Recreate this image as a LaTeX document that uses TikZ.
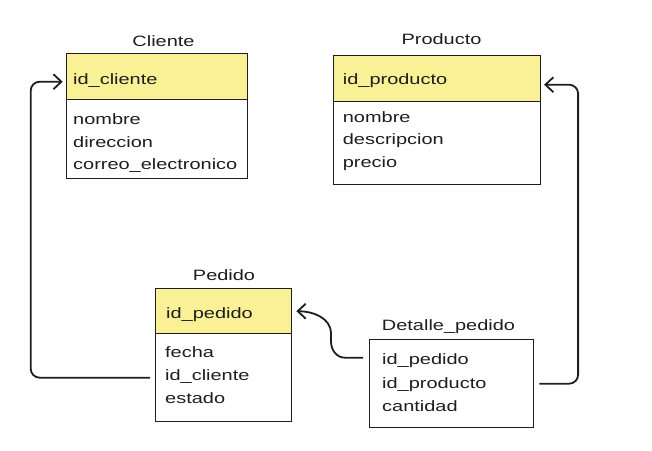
\documentclass[tikz,border=0pt]{standalone}
\usepackage{fontspec}
\setmainfont[FakeStretch=1.33]{Liberation Sans}
\usetikzlibrary{arrows.meta}
\definecolor{ink}{RGB}{30,30,30}
\definecolor{hdr}{RGB}{250,240,150}
\begin{document}
\begin{tikzpicture}[x=1pt,y=-1pt,
  font=\fontsize{15}{23}\selectfont,
  box/.style={draw=ink, line width=1.4pt, fill=white, anchor=north west, inner sep=0pt},
  hdrbox/.style={box, fill=hdr},
  txt/.style={anchor=base west, inner sep=0pt, text=ink},
  ttl/.style={anchor=base, inner sep=0pt, text=ink},
  conn/.style={draw=ink, line width=1.8pt, rounded corners=9pt, -{Straight Barb[length=8pt,width=15pt,line width=1.8pt]}}]
\useasboundingbox (0,0) rectangle (652,450);

% Cliente
\node[ttl] (cliT) at (163.5,46) {Cliente};
\node[hdrbox, minimum width=181pt, minimum height=46pt] (cliH) at (65.7,53) {};
\node[box, minimum width=181pt, minimum height=79pt] (cliB) at (65.7,99) {};
\node[txt] (cli1) at (73,84) {id\_cliente};
\node[txt] (cli2) at (73,124) {nombre};
\node[txt] (cli3) at (73,147) {direccion};
\node[txt] (cli4) at (73,169) {correo\_electronico};

% Producto
\node[ttl] (proT) at (441.5,44) {Producto};
\node[hdrbox, minimum width=207pt, minimum height=46pt] (proH) at (332.7,55) {};
\node[box, minimum width=207pt, minimum height=83pt] (proB) at (332.7,101) {};
\node[txt] (pro1) at (342.7,84) {id\_producto};
\node[txt] (pro2) at (342.7,122) {nombre};
\node[txt] (pro3) at (342.7,144) {descripcion};
\node[txt] (pro4) at (342.7,167) {precio};

% Pedido
\node[ttl] (pedT) at (224,280) {Pedido};
\node[hdrbox, minimum width=136pt, minimum height=45pt] (pedH) at (155,288) {};
\node[box, minimum width=136pt, minimum height=88pt] (pedB) at (155,333) {};
\node[txt] (ped1) at (166,318) {id\_pedido};
\node[txt] (ped2) at (165,357) {fecha};
\node[txt] (ped3) at (165,380) {id\_cliente};
\node[txt] (ped4) at (165,403) {estado};

% Detalle_pedido
\node[ttl] (detT) at (448.5,330) {Detalle\_pedido};
\node[box, minimum width=164pt, minimum height=88pt] (detB) at (369,339) {};
\node[txt] (det1) at (382,364) {id\_pedido};
\node[txt] (det2) at (382,388) {id\_producto};
\node[txt] (det3) at (382,411) {cantidad};

% connectors
\draw[conn] ([xshift=-5pt]pedB.west) -| ([xshift=-35pt,yshift=-5pt]cliH.west) -- ([xshift=-3pt,yshift=-5pt]cliH.west);
\draw[conn] ([xshift=5pt]detB.east) -| ([xshift=37pt,yshift=-6pt]proH.east) -- ([xshift=3pt,yshift=-6pt]proH.east);
\draw[conn, rounded corners=0pt] ([xshift=-6pt,yshift=26pt]detB.west) -- ++(-18,0) to[out=180,in=-90] ++(-14,-16) -- ++(0,-8) to[out=90,in=0] ([xshift=4pt]pedH.east);
\end{tikzpicture}
\end{document}
